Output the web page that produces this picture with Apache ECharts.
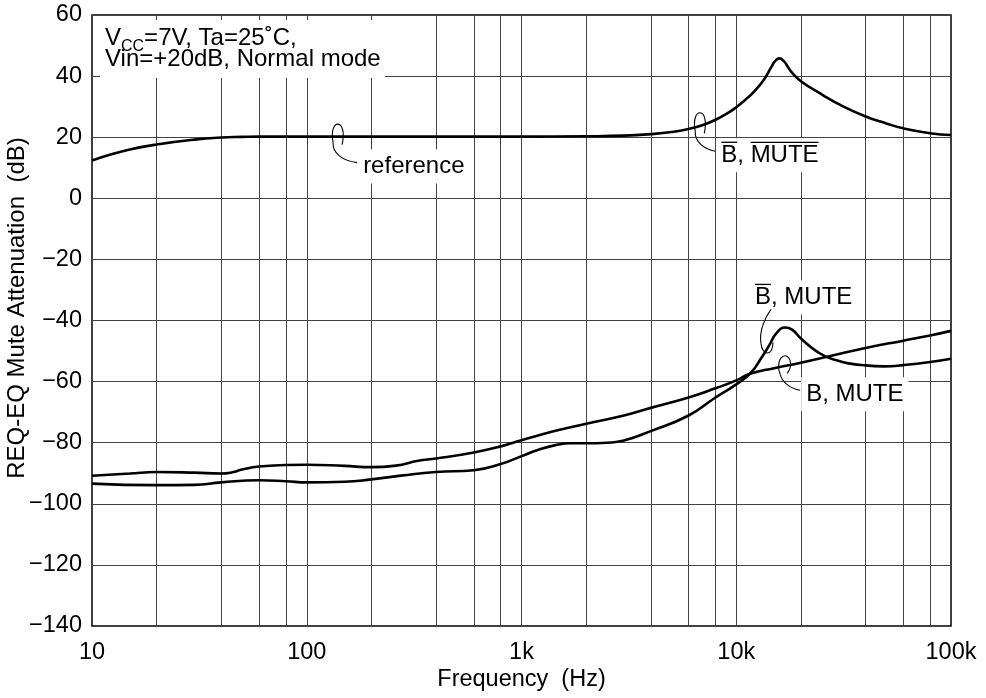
<!DOCTYPE html>
<html><head><meta charset="utf-8">
<script src="https://cdn.jsdelivr.net/npm/echarts@6/dist/echarts.min.js"></script>
<style>html,body{margin:0;padding:0;background:#fff}#c{width:986px;height:698px}</style>
</head><body><div id="c"></div>
<script>
// ---- data ----
const refFreq = [10,12,15,20,30,40,50,60,100,200,500,1000,2000,3000,4000,5000,6000,7000,8000,9000,10000,11000,12100,13500,14600,15200,15900,16700,17400,18100,20000,25300,30000,40000,50000,60000,80000,100000];
const refDb   = [12.4,14.2,16.0,17.6,19.2,19.9,20.1,20.2,20.2,20.2,20.2,20.2,20.3,20.5,21.0,21.7,22.7,24.0,25.7,27.6,29.8,32.2,34.9,39.0,43.1,45.0,45.8,44.8,43.0,41.3,38.3,33.8,30.8,26.8,24.5,22.9,21.3,20.7];

const bMuteFreq = [10,15,20,30,40,45,50,60,80,100,150,200,260,330,400,600,800,1000,1440,2000,3000,4000,6000,8000,10000,11500,15000,20000,40000,60000,80000,100000];
const bMuteDb   = [-90.8,-90.1,-89.6,-89.8,-90.1,-89.7,-88.8,-87.8,-87.3,-87.2,-87.6,-88.0,-87.5,-85.9,-85.2,-83.2,-81.2,-79.2,-76.1,-73.8,-71.1,-68.6,-65.2,-62.2,-59.6,-57.5,-55.6,-53.8,-49.0,-46.6,-44.9,-43.4];

const bBarMuteFreq = [10,20,30,40,60,80,100,150,200,280,400,600,800,1000,1200,1440,1700,2000,2500,3000,4000,6000,8000,10000,11700,13100,14300,15400,16900,18200,20000,23600,28400,40000,49000,60000,80000,100000];
const bBarMuteDb   = [-93.4,-93.9,-93.8,-93.0,-92.3,-92.6,-93.0,-92.8,-92.0,-90.7,-89.6,-89.0,-87.0,-84.4,-82.3,-80.8,-80.2,-80.2,-80.0,-79.3,-76.2,-71.1,-65.2,-60.9,-57.1,-52.2,-47.9,-44.1,-42.3,-43.0,-45.9,-50.0,-52.8,-54.7,-55.0,-54.6,-53.6,-52.5];

const gridFreqs = [20,40,60,80,100,200,400,600,800,1000,2000,4000,6000,8000,10000,20000,40000,60000,80000];
const xTickLabels = ['10','100','1k','10k','100k'];
const yMin = -140, yMax = 60, yStep = 20;

// ---- chart ----
const FONT = '"Liberation Sans", Arial, Helvetica, sans-serif';
const chart = echarts.init(document.getElementById('c'), null, {renderer:'canvas'});
const pair = (f, d) => f.map((v, i) => [v, d[i]]);
const curve = (name, f, d) => ({
  name, type:'line', data: pair(f, d), smooth: 0.5,
  showSymbol:false, symbol:'none', lineStyle:{color:'#000', width:2.6}, z:10, silent:true
});

chart.setOption({
  animation:false,
  grid:{left:92, right:35, top:15, bottom:72, show:true, borderColor:'#000', borderWidth:1.5, backgroundColor:'rgba(0,0,0,0)'},
  xAxis:{type:'log', logBase:10, min:10, max:100000,
    axisLine:{show:false}, axisTick:{show:false}, splitLine:{show:false},
    axisLabel:{formatter: v => xTickLabels[Math.round(Math.log10(v)) - 1] || '',
      fontFamily:FONT, fontSize:23.5, color:'#000', margin:27, verticalAlign:'middle'}},
  yAxis:{type:'value', min:yMin, max:yMax, interval:yStep,
    axisLine:{show:false}, axisTick:{show:false},
    splitLine:{lineStyle:{color:'#444', width:1}},
    axisLabel:{formatter: v => v < 0 ? '\u2212' + Math.abs(v) : String(v),
      fontFamily:FONT, fontSize:23.5, color:'#000', margin:10}},
  series:[
    {type:'line', data:[], z:1, silent:true,
     markLine:{silent:true, symbol:['none','none'], label:{show:false}, animation:false,
       lineStyle:{color:'#444', width:1, type:'solid'},
       data: gridFreqs.map(f => ({xAxis:f}))}},
    curve('reference', refFreq, refDb),
    curve('B, MUTE', bMuteFreq, bMuteDb),
    curve('Bbar, MUTE', bBarMuteFreq, bBarMuteDb)
  ]
});

// ---- annotations ----
const pt = (f, d) => chart.convertToPixel({gridIndex:0}, [f, d]);
const o = (a, dx, dy) => [a[0] + dx, a[1] + dy];
const mctx = document.createElement('canvas').getContext('2d');
const tw = (s, fs) => { mctx.font = fs + 'px ' + FONT; return mctx.measureText(s).width; };
const G = [];
const bez = (p0, c1, c2, p1) => G.push({type:'bezierCurve', z:30, silent:true,
  shape:{x1:p0[0], y1:p0[1], cpx1:c1[0], cpy1:c1[1], cpx2:c2[0], cpy2:c2[1], x2:p1[0], y2:p1[1]},
  style:{stroke:'#000', lineWidth:1.1, fill:null}});
const FS = 24;
const text = (s, x, y, fs, extra) => G.push({type:'text', x, y, z:22, silent:true,
  style:Object.assign({text:s, font:fs + 'px ' + FONT, fill:'#000', align:'left', verticalAlign:'middle'}, extra || {})});
const label = (s, x, cy, bars) => {
  text(s, x, cy, FS, {backgroundColor:'#fff', padding:[5,5,5,5]});
  (bars || []).forEach(([pre, seg]) => {
    const x0 = x + 5 + tw(pre, FS), x1 = x0 + tw(seg, FS);
    G.push({type:'line', z:25, silent:true, shape:{x1:x0, y1:cy - 13, x2:x1, y2:cy - 13},
      style:{stroke:'#000', lineWidth:1.3}});
  });
};

// top-left condition box
const tl = pt(10, 60);
G.push({type:'rect', z:20, silent:true, shape:{x:tl[0] + 8, y:tl[1] + 5, width:285, height:58}, style:{fill:'#fff'}});
(function(){
  let x = tl[0] + 13, y1 = tl[1] + 23.5, y2 = tl[1] + 44.5;
  text('V', x, y1, FS); x += tw('V', FS);
  text('CC', x, y1 + 8, 16); x += tw('CC', 16);
  text('=7V, Ta=25\u02DAC,', x, y1, FS);
  text('Vin=+20dB, Normal mode', tl[0] + 13, y2, FS);
})();

// "reference" leader
(function(){
  const a = pt(140, 20.2);
  bez(o(a,-5,6), o(a,-10,-19), o(a,10,-19), o(a,4,8));
  bez(o(a,-5,6), o(a,-6,16), o(a,4,24), o(a,19,26));
  label('reference', a[0] + 20, a[1] + 30);
})();

// "B-bar, MUTE-bar" leader (same curve)
(function(){
  const a = pt(6800, 23.9);
  bez(o(a,-5,6), o(a,-10,-19), o(a,10,-19), o(a,4,8));
  bez(o(a,-5,6), o(a,-6,16), o(a,4,24), o(a,15,26));
  label('B, MUTE', a[0] + 16, a[1] + 30, [['', 'B'], ['B, ', 'MUTE']]);
})();

// "B-bar, MUTE" leader
(function(){
  const a = pt(13900, -47.5);
  bez(o(a,4,-34), o(a,-2,-26), o(a,-8,-12), o(a,-6,0));
  bez(o(a,-6,0), o(a,-5,12), o(a,6,14), o(a,6,-1));
  label('B, MUTE', a[0] - 17, a[1] - 46, [['', 'B']]);
})();

// "B, MUTE" leader
(function(){
  const a = pt(16900, -55);
  bez(o(a,2,7), o(a,9,-2), o(a,4,-13), o(a,-2,-10));
  bez(o(a,-2,-10), o(a,-8,-7), o(a,-7,4), o(a,-5,8));
  bez(o(a,-5,8), o(a,-3,16), o(a,5,22), o(a,15,24));
  label('B, MUTE', a[0] + 16, a[1] + 28);
})();

// axis titles
const c0 = pt(10, yMin), c1 = pt(100000, yMax);
const cx = (c0[0] + c1[0]) / 2;
G.push({type:'text', x:cx, y:680, z:22, silent:true,
  style:{text:'Frequency  (Hz)', font:'23.5px ' + FONT, fill:'#000', align:'center', verticalAlign:'middle'}});
G.push({type:'text', x:17.5, y:308, rotation:Math.PI/2, z:22, silent:true,
  style:{text:'REQ-EQ Mute Attenuation  (dB)', font:'24px ' + FONT, fill:'#000', align:'center', verticalAlign:'middle'}});

chart.setOption({graphic:{elements:G}});
</script></body></html>
